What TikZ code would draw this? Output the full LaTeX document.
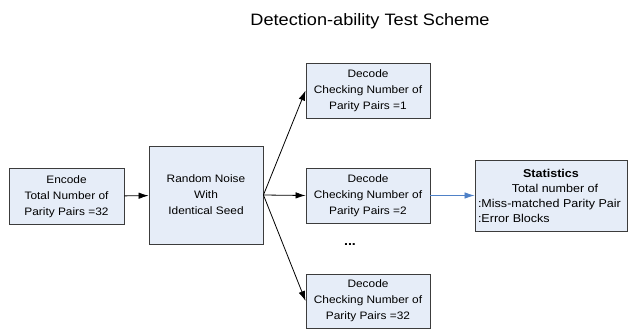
\documentclass[tikz,border=0pt]{standalone}
\usepackage{fontspec}
\setmainfont{Liberation Sans}[FakeStretch=1.1]
\usetikzlibrary{arrows.meta}
\definecolor{boxfill}{RGB}{230,237,248}
\definecolor{boxline}{RGB}{60,60,60}
\definecolor{bluearrow}{RGB}{79,129,199}
\begin{document}
\begin{tikzpicture}[x=1pt,y=-1pt,
  blk/.style={draw=boxline,line width=0.9pt,fill=boxfill,align=center,
    font=\fontsize{10.8}{16}\selectfont,inner sep=0pt},
  arr/.style={line width=0.8pt,-{Latex[length=10pt,width=6.5pt]}}]
\useasboundingbox (0,0) rectangle (628,329);
\node (title) at (370,21) {\fontsize{16.5}{18}\selectfont Detection-ability Test Scheme};
\node[blk,minimum width=115pt,minimum height=56pt] (enc) at (66.5,196.5)
  {Encode\\Total Number of\\Parity Pairs =32};
\node[blk,minimum width=114pt,minimum height=98pt] (rnd) at (206,195)
  {Random Noise\\With\\Identical Seed};
\node[blk,minimum width=124pt,minimum height=55pt] (d1) at (368,90.5)
  {Decode\\Checking Number of\\Parity Pairs =1};
\node[blk,minimum width=124pt,minimum height=55pt] (d2) at (368,195.5)
  {Decode\\Checking Number of\\Parity Pairs =2};
\node[blk,minimum width=124pt,minimum height=54pt] (d3) at (368,301)
  {Decode\\Checking Number of\\Parity Pairs =32};
\node[blk,minimum width=152pt,minimum height=71pt,align=left,font=\fontsize{11.4}{15}\selectfont] (stats) at (551,195.5)
  {\makebox[146pt]{\bfseries Statistics}\\
   \makebox[146pt]{\hspace{8pt}Total number of}\\
   \makebox[146pt][l]{:Miss-matched Parity Pair}\\
   \makebox[146pt][l]{:Error Blocks}};
\node[font=\fontsize{13}{13}\selectfont\bfseries] (dots) at (350,245) {...};
\draw[arr] (enc) -- (rnd);
\draw[arr] (rnd.east) -- (d1.west);
\draw[arr] (rnd.east) -- (d2.west);
\draw[arr] (rnd.east) -- (d3.west);
\draw[arr,draw=bluearrow,fill=bluearrow] (d2) -- (stats);
\end{tikzpicture}
\end{document}
